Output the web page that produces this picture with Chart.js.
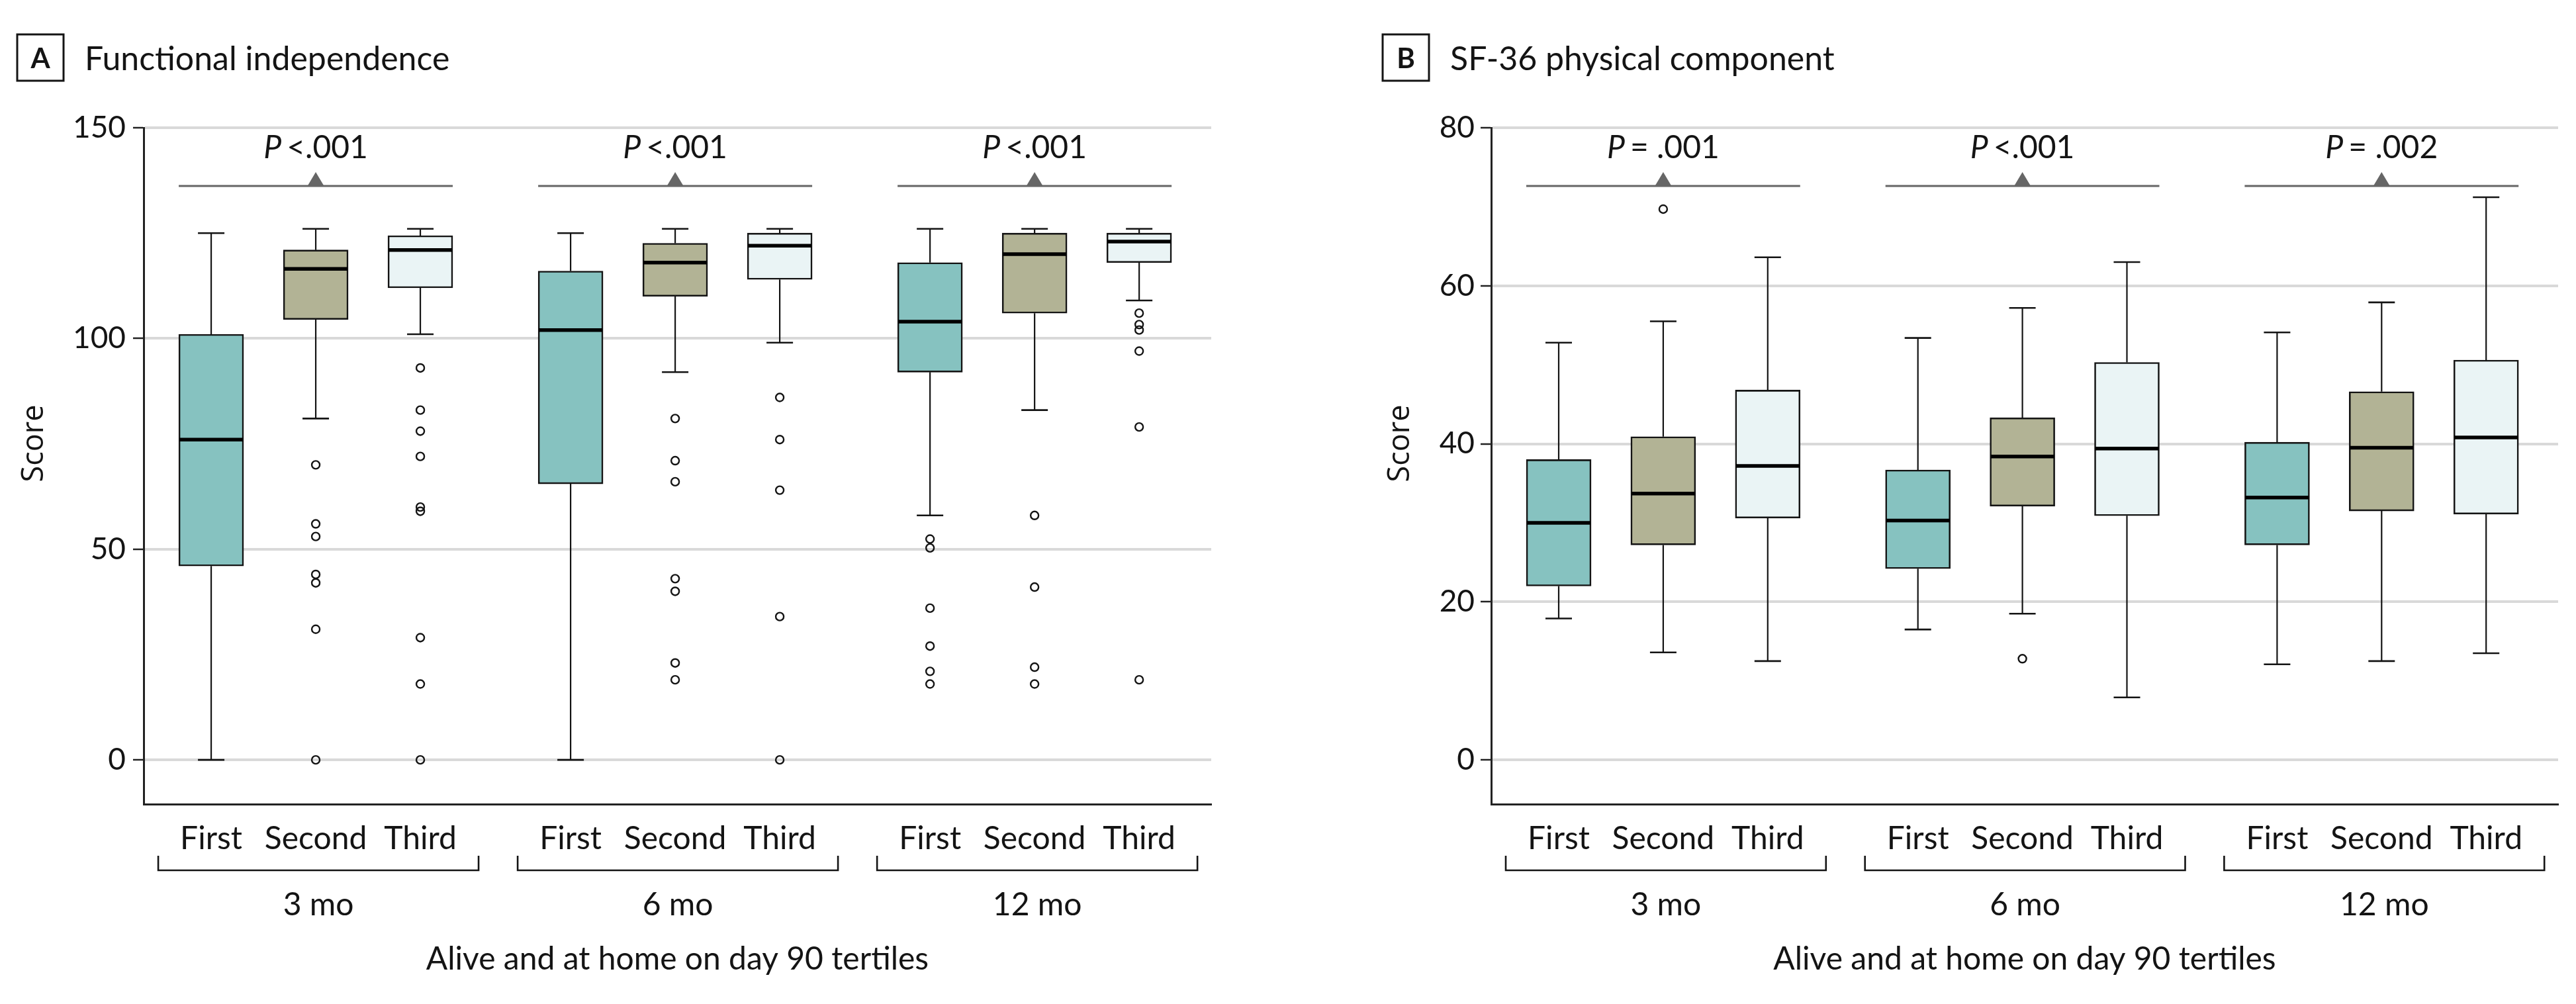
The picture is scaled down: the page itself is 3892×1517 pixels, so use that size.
<!DOCTYPE html>
<html>
<head>
<meta charset="utf-8">
<script src="https://cdn.jsdelivr.net/npm/chart.js@4.4.0/dist/chart.umd.min.js"></script>
<style>
  html, body { margin: 0; padding: 0; background: #fff; }
  #wrap { position: relative; width: 3892px; height: 1517px; }
  canvas { position: absolute; top: 0; }
</style>
</head>
<body>
<div id="wrap">
  <canvas id="chartA" width="1946" height="1517" style="left:0"></canvas>
  <canvas id="chartB" width="1946" height="1517" style="left:1946px"></canvas>
</div>
<script>
const groups = ['3 mo', '6 mo', '12 mo'];
const tertiles = ['First', 'Second', 'Third'];

// A - functional independence, order: 3 mo F/S/T, 6 mo F/S/T, 12 mo F/S/T
const fimTicks = [0, 50, 100, 150];
const fimMin = [0, 81, 101, 0, 92, 99, 58, 83, 109];
const fimQ1 = [46, 104.5, 112, 65.5, 110, 114, 92, 106, 118];
const fimMedian = [76, 116.5, 121, 102, 118, 122, 104, 120, 123];
const fimQ3 = [101, 121, 124.4, 116, 122.6, 125, 118, 125, 125];
const fimMax = [125, 126, 126, 125, 126, 126, 126, 126, 126];
const fimOutliers = [
  [],
  [70, 56, 53, 44, 42, 31, 0],
  [93, 83, 78, 72, 60, 59, 29, 18, 0],
  [],
  [81, 71, 66, 43, 40, 23, 19],
  [86, 76, 64, 34, 0],
  [52.4, 50.3, 36, 27, 21, 18],
  [58, 41, 22, 18],
  [106, 103.3, 102, 97, 79, 19]
];
const fimP = ['<.001', '<.001', '<.001'];

// B - SF-36 physical component
const pcsTicks = [0, 20, 40, 60, 80];
const pcsMin = [17.9, 13.6, 12.5, 16.5, 18.5, 7.9, 12.1, 12.5, 13.5];
const pcsQ1 = [22.0, 27.2, 30.6, 24.2, 32.1, 30.9, 27.2, 31.5, 31.1];
const pcsMedian = [30.0, 33.7, 37.2, 30.3, 38.4, 39.4, 33.2, 39.5, 40.8];
const pcsQ3 = [38.0, 40.9, 46.8, 36.7, 43.3, 50.3, 40.2, 46.6, 50.6];
const pcsMax = [52.8, 55.5, 63.6, 53.4, 57.2, 63.0, 54.1, 57.9, 71.2];
const pcsOutliers = [[], [69.7], [], [], [12.8], [], [], [], []];
const pcsP = ['= .001', '<.001', '= .002'];

const boxColors = ['#86c2c0', '#b2b395', '#eaf4f5'];
const GROUP_STEP = 3.437;
const positions = [];
groups.forEach((g, gi) => tertiles.forEach((t, ti) => positions.push(gi * GROUP_STEP + ti)));

const INK = '#141414';
const HALF_BOX = 49;

function boxPlotPlugin(p) {
  return {
    id: 'boxplot',
    beforeDatasetsDraw(chart) {
      const {ctx, scales: {x, y}} = chart;
      ctx.save();
      ctx.strokeStyle = INK;
      positions.forEach((pos, i) => {
        const px = x.getPixelForValue(pos);
        const yMin = y.getPixelForValue(p.min[i]);
        const yQ1 = y.getPixelForValue(p.q1[i]);
        const yQ3 = y.getPixelForValue(p.q3[i]);
        const yMax = y.getPixelForValue(p.max[i]);
        ctx.lineWidth = 2.2;
        ctx.beginPath();
        ctx.moveTo(px, yQ3); ctx.lineTo(px, yMax);
        ctx.moveTo(px, yQ1); ctx.lineTo(px, yMin);
        ctx.stroke();
        ctx.lineWidth = 2.6;
        ctx.beginPath();
        ctx.moveTo(px - 20, yMax); ctx.lineTo(px + 20, yMax);
        ctx.moveTo(px - 20, yMin); ctx.lineTo(px + 20, yMin);
        ctx.stroke();
      });
      ctx.restore();
    },
    afterDatasetsDraw(chart) {
      const {ctx, chartArea, scales: {x, y}} = chart;
      ctx.save();
      // medians
      ctx.strokeStyle = '#000';
      ctx.lineWidth = 5.5;
      positions.forEach((pos, i) => {
        const px = x.getPixelForValue(pos);
        const py = y.getPixelForValue(p.median[i]);
        ctx.beginPath();
        ctx.moveTo(px - HALF_BOX + 1, py); ctx.lineTo(px + HALF_BOX - 1, py);
        ctx.stroke();
      });
      // P value markers
      groups.forEach((g, gi) => {
        const x1 = x.getPixelForValue(positions[gi * 3]) - HALF_BOX;
        const x2 = x.getPixelForValue(positions[gi * 3 + 2]) + HALF_BOX;
        const cx = x.getPixelForValue(positions[gi * 3 + 1]);
        const ly = chartArea.top + 88;
        ctx.strokeStyle = '#666';
        ctx.fillStyle = '#666';
        ctx.lineWidth = 3;
        ctx.beginPath();
        ctx.moveTo(x1, ly); ctx.lineTo(x2, ly);
        ctx.stroke();
        ctx.beginPath();
        ctx.moveTo(cx - 12.5, ly); ctx.lineTo(cx, ly - 21); ctx.lineTo(cx + 12.5, ly);
        ctx.closePath();
        ctx.fill();

        ctx.fillStyle = INK;
        ctx.textBaseline = 'alphabetic';
        ctx.textAlign = 'left';
        ctx.font = 'italic 48px Lato';
        const wP = ctx.measureText('P').width;
        ctx.font = '48px Lato';
        const rest = p.pText[gi];
        const wR = ctx.measureText(rest).width;
        const gap = 8;
        const start = cx - (wP + gap + wR) / 2;
        ctx.font = 'italic 48px Lato';
        ctx.fillText('P', start, chartArea.top + 46);
        ctx.font = '48px Lato';
        ctx.fillText(rest, start + wP + gap, chartArea.top + 46);
      });
      ctx.restore();
    },
    afterDraw(chart) {
      const {ctx, chartArea, scales: {x}} = chart;
      const b = chartArea.bottom;
      ctx.save();
      ctx.strokeStyle = INK;
      ctx.fillStyle = INK;
      ctx.lineWidth = 2.6;
      // group brackets and labels
      groups.forEach((g, gi) => {
        const l = x.getPixelForValue(positions[gi * 3]) - 80;
        const r = x.getPixelForValue(positions[gi * 3 + 2]) + 88;
        ctx.beginPath();
        ctx.moveTo(l, b + 78); ctx.lineTo(l, b + 100); ctx.lineTo(r, b + 100); ctx.lineTo(r, b + 78);
        ctx.stroke();
        ctx.font = '48px Lato';
        ctx.textAlign = 'center';
        ctx.textBaseline = 'alphabetic';
        ctx.fillText(g, (l + r) / 2, b + 168);
      });
      // x title
      ctx.fillText('Alive and at home on day 90 tertiles', (chartArea.left + chartArea.right) / 2, b + 250);
      // y title
      ctx.save();
      ctx.translate(p.scoreX, 670);
      ctx.rotate(-Math.PI / 2);
      ctx.font = '45px "Open Sans"';
      ctx.textBaseline = 'middle';
      ctx.fillText('Score', 0, 0);
      ctx.restore();
      // panel title
      ctx.lineWidth = 3;
      ctx.strokeRect(p.boxX, 52, 70, 70);
      ctx.font = 'bold 42px Lato';
      ctx.textAlign = 'center';
      ctx.fillText(p.letter, p.boxX + 35, 103);
      ctx.font = '50px Lato';
      ctx.textAlign = 'left';
      ctx.fillText(p.title, p.titleX, 106);
      ctx.restore();
    }
  };
}

function makeChart(id, p) {
  const boxData = positions.map((pos, i) => ({x: pos, y: [p.q1[i], p.q3[i]]}));
  const outlierData = [];
  p.outliers.forEach((list, i) => list.forEach(v => outlierData.push({x: positions[i], y: v})));

  return new Chart(document.getElementById(id), {
    type: 'bar',
    data: {
      datasets: [
        {
          type: 'bar',
          data: boxData,
          backgroundColor: positions.map((_, i) => boxColors[i % 3]),
          borderColor: INK,
          borderWidth: 2.6,
          borderSkipped: false,
          barThickness: HALF_BOX * 2
        },
        {
          type: 'scatter',
          data: outlierData,
          pointStyle: 'circle',
          pointRadius: 6,
          pointBorderWidth: 2.4,
          pointBorderColor: INK,
          pointBackgroundColor: 'rgba(0,0,0,0)'
        }
      ]
    },
    options: {
      responsive: false,
      animation: false,
      devicePixelRatio: 1,
      events: [],
      layout: {padding: {left: 0, top: 193, right: p.right, bottom: 0}},
      plugins: {legend: {display: false}, tooltip: {enabled: false}},
      scales: {
        x: {
          type: 'linear',
          min: -0.646,
          max: 9.563,
          offset: false,
          afterBuildTicks: s => { s.ticks = positions.map(v => ({value: v})); },
          afterFit: s => { s.height = 302; s.paddingLeft = 0; s.paddingRight = 0; },
          ticks: {
            callback: (v, i) => tertiles[i % 3],
            autoSkip: false, maxRotation: 0, minRotation: 0,
            padding: 16, color: INK,
            font: {family: 'Lato', size: 48}
          },
          grid: {display: false},
          border: {display: true, color: '#222', width: 3}
        },
        y: {
          type: 'linear',
          min: p.yMin,
          max: p.yMax,
          afterBuildTicks: s => { s.ticks = p.ticks.map(v => ({value: v})); },
          afterFit: s => { s.width = p.axisX; s.paddingTop = 0; s.paddingBottom = 0; },
          ticks: {padding: p.tickPad, color: INK, font: {family: 'Lato', size: 46}},
          grid: {color: '#d9d9d9', lineWidth: 4, tickColor: '#222', tickWidth: 2.5, tickLength: 16},
          border: {display: true, color: '#222', width: 3}
        }
      }
    },
    plugins: [boxPlotPlugin(p)]
  });
}

makeChart('chartA', {
  min: fimMin, q1: fimQ1, median: fimMedian, q3: fimQ3, max: fimMax, outliers: fimOutliers,
  ticks: fimTicks, pText: fimP, yMin: -10.5, yMax: 150,
  right: 116, axisX: 217, tickPad: 11, scoreX: 52, boxX: 26, titleX: 128,
  letter: 'A', title: 'Functional independence'
});

makeChart('chartB', {
  min: pcsMin, q1: pcsQ1, median: pcsMedian, q3: pcsQ3, max: pcsMax, outliers: pcsOutliers,
  ticks: pcsTicks, pText: pcsP, yMin: -5.6, yMax: 80,
  right: 27, axisX: 307, tickPad: 9, scoreX: 170, boxX: 143, titleX: 245,
  letter: 'B', title: 'SF-36 physical component'
});
</script>
</body>
</html>
